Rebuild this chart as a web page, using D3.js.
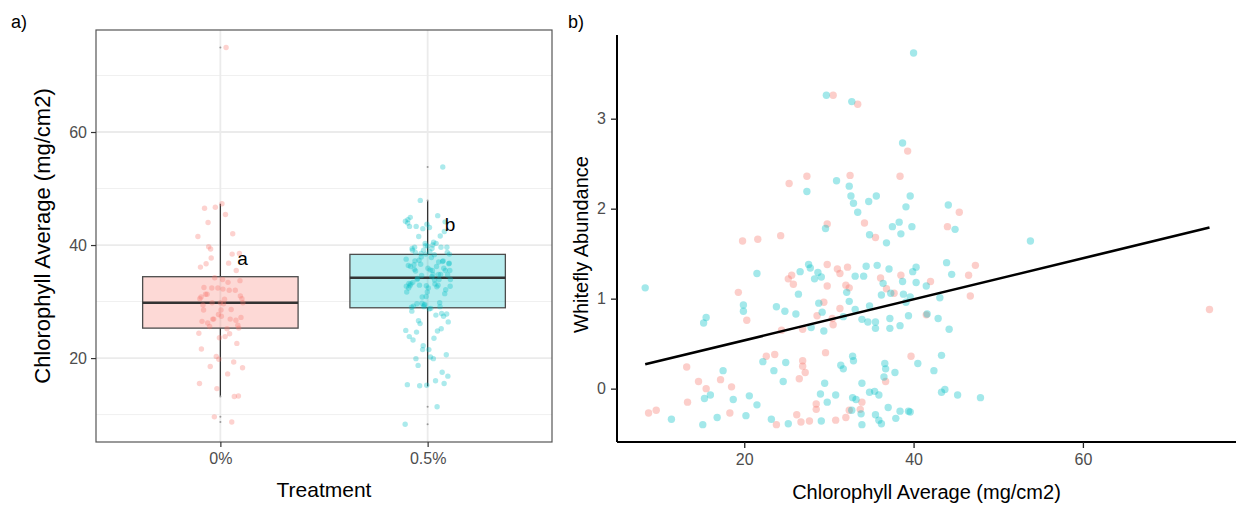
<!DOCTYPE html>
<html>
<head>
<meta charset="utf-8">
<script src="https://cdn.jsdelivr.net/npm/d3@7"></script>
<style>
  body { margin: 0; background: #fff; }
  text { font-family: "Liberation Sans", Arial, sans-serif; }
</style>
</head>
<body>
<div id="chart"></div>
<script>
var width = 1236;
var height = 506;

// treatment groups
var groups = ["0%", "0.5%"];
var groupColors = ["#F8766D", "#00BFC4"];

// 0% plants: chlorophyll average (mg/cm2) and whitefly abundance
var chl0 = [30.5, 33.4, 39.3, 25.3, 27.4, 32.5, 38.4, 34.2, 29.8, 45.4, 44.0, 35.5, 19.8, 21.6, 24.3,
    29.8, 31.0, 32.2, 31.3, 19.3, 20.3, 24.4, 25.2, 25.6, 25.8, 29.8, 29.4, 28.6, 26.9, 30.5,
    30.4, 31.3, 32.0, 32.4, 36.1, 36.8, 37.7, 38.5, 47.3, 46.5, 42.0, 46.7, 41.5, 74.95, 39.7,
    22.6, 23.6, 26.5, 26.9, 26.9, 27.2, 29.6, 36.7, 13.2, 14.6, 15.5, 17.2, 18.5, 13.3, 28.5,
    28.5, 8.7, 9.6, 18.3, 23.8, 26.2, 26.7, 27.7, 30.8, 32.0, 32.4, 33.7, 33.9];
var wf0 = [3.26, 3.16, 2.64, 2.28, 2.36, 2.37, 2.36, 1.84, 1.83, 1.96, 1.80, 1.68, 1.64, 1.66, 1.70,
    1.38, 1.33, 1.35, 1.28, 1.07, 0.76, 0.65, 1.22, 1.26, 1.16, 1.14, 0.96, 0.81, 0.66, 0.71,
    0.78, 0.89, 1.15, 1.12, 1.23, 1.11, 1.06, 1.26, 1.37, 1.26, 1.19, 1.03, 0.82, 0.88, 0.36,
    0.36, 0.38, 0.11, 0.31, 0.25, 0.18, 0.40, 0.08, 0.24, 0.08, 0.00, 0.10, 0.02, -0.15, -0.17,
    -0.23, -0.27, -0.24, -0.27, -0.40, -0.29, -0.37, -0.36, -0.35, -0.32, -0.24, -0.23, -0.15];

// 0.5% plants
var chl05 = [29.7, 32.7, 40.0, 38.7, 27.4, 30.9, 32.4, 32.6, 32.9, 34.7, 35.6, 33.4, 39.6, 39.1, 37.5,
    38.3, 29.6, 44.1, 39.8, 44.9, 34.8, 38.5, 36.8, 34.4, 35.7, 37.1, 40.3, 43.9, 27.6, 26.6,
    27.8, 28.7, 28.3, 29.1, 21.5, 8.3, 19.9, 19.9, 15.5, 15.2, 23.8, 24.8, 26.1, 26.4, 28.8,
    29.2, 27.9, 29.4, 31.7, 33.1, 34.1, 32.1, 32.4, 33.1, 33.9, 34.6, 35.5, 35.5, 37.2, 37.2,
    38.4, 36.4, 36.2, 37.3, 38.7, 38.8, 39.1, 34.8, 22.2, 24.9, 23.5, 24.6, 31.4, 31.7, 32.8,
    32.9, 36.6, 36.7, 37.8, 36.5, 17.5, 29.5, 15.3, 16.0, 18.7, 20.6, 21.5, 29.0, 29.8, 30.8,
    33.9, 34.8, 35.4, 35.9, 32.8, 33.2, 11.4, 15.1, 16.8, 20.2, 23.2, 25.2, 29.1, 32.7, 33.8,
    33.9, 35.5, 35.9, 36.2, 37.0, 37.9, 38.4, 39.4, 39.6, 53.8, 39.9, 44.5, 40.3, 41.5, 39.6,
    43.1, 39.4, 41.6, 42.9, 44.2, 40.5, 43.3, 42.4, 43.7, 43.3, 45.2, 47.9];
var wf05 = [3.26, 3.19, 3.73, 2.73, 2.19, 2.31, 2.25, 2.14, 2.06, 2.08, 2.14, 1.96, 2.14, 2.02, 1.80,
    1.85, 1.78, 2.04, 1.80, 1.77, 1.71, 1.72, 1.62, 1.36, 1.37, 1.33, 1.35, 1.40, 1.38, 1.30,
    1.34, 1.29, 1.22, 1.24, 1.28, 1.12, 0.93, 0.86, 0.79, 0.73, 0.91, 0.86, 0.83, 1.05, 0.95,
    0.85, 0.68, 0.64, 0.80, 1.25, 1.25, 1.07, 0.97, 0.88, 0.77, 0.74, 0.74, 0.67, 0.78, 0.67,
    0.70, 1.17, 1.04, 1.06, 1.19, 1.05, 0.96, 0.92, 0.30, 0.29, 0.20, 0.08, 0.26, 0.22, 0.36,
    0.31, 0.28, 0.22, 0.18, 0.13, 0.20, 0.06, -0.11, -0.07, -0.12, -0.08, -0.18, -0.06, -0.15, -0.07,
    0.06, -0.04, -0.03, -0.07, -0.10, -0.12, -0.34, -0.40, -0.32, -0.30, -0.34, -0.39, -0.36, -0.24, -0.28,
    -0.40, -0.29, -0.35, -0.39, -0.21, -0.33, -0.25, -0.25, -0.26, 1.64, 1.30, 1.27, 1.18, 1.14, 1.02,
    1.01, 0.81, 0.83, 0.78, 0.66, 0.28, 0.37, 0.20, -0.01, -0.04, -0.07, -0.10];

// boxplot statistics per group
var boxLower = [13.3, 15.0];
var boxQ1 = [25.3, 28.9];
var boxMedian = [29.8, 34.2];
var boxQ3 = [34.4, 38.35];
var boxUpper = [47.3, 47.8];

// significance letters
var sigLabels = ["a", "b"];
var sigY = [36.5, 42.4];

// linear fit endpoints (chlorophyll, whitefly)
var fitX = [8.3, 74.95];
var fitY = [0.27, 1.79];

var yTicksA = [20, 40, 60];
var yMinorA = [10, 30, 50, 70];
var xTicksB = [20, 40, 60];
var yTicksB = [0, 1, 2, 3];

var chlByGroup = [chl0, chl05];

var svg = d3.select("#chart").append("svg")
    .attr("width", width)
    .attr("height", height);

// ---------------- panel a ----------------
var aLeft = 96, aRight = 552, aTop = 30, aBottom = 442;

var xa = d3.scalePoint()
    .domain(groups)
    .range([aLeft, aRight])
    .padding(0.6);

var ya = d3.scaleLinear()
    .domain([5.15, 78.05])
    .range([aBottom, aTop]);

var pa = svg.append("g");

// grid
pa.selectAll(".minor")
    .data(yMinorA)
    .enter().append("line")
    .attr("x1", aLeft).attr("x2", aRight)
    .attr("y1", function(d) { return ya(d); })
    .attr("y2", function(d) { return ya(d); })
    .attr("stroke", "#F0F0F0")
    .attr("stroke-width", 1);

pa.selectAll(".major")
    .data(yTicksA)
    .enter().append("line")
    .attr("x1", aLeft).attr("x2", aRight)
    .attr("y1", function(d) { return ya(d); })
    .attr("y2", function(d) { return ya(d); })
    .attr("stroke", "#EBEBEB")
    .attr("stroke-width", 1.8);

pa.selectAll(".vmajor")
    .data(groups)
    .enter().append("line")
    .attr("x1", function(d) { return xa(d); })
    .attr("x2", function(d) { return xa(d); })
    .attr("y1", aTop).attr("y2", aBottom)
    .attr("stroke", "#EBEBEB")
    .attr("stroke-width", 1.8);

var boxW = xa.step() * 0.75;

// whiskers, boxes, medians
groups.forEach(function(g, i) {
    var cx = xa(g);
    pa.append("line")
        .attr("x1", cx).attr("x2", cx)
        .attr("y1", ya(boxQ3[i])).attr("y2", ya(boxUpper[i]))
        .attr("stroke", "#333").attr("stroke-width", 1.3);
    pa.append("line")
        .attr("x1", cx).attr("x2", cx)
        .attr("y1", ya(boxQ1[i])).attr("y2", ya(boxLower[i]))
        .attr("stroke", "#333").attr("stroke-width", 1.3);

    pa.append("rect")
        .attr("x", cx - boxW / 2)
        .attr("y", ya(boxQ3[i]))
        .attr("width", boxW)
        .attr("height", ya(boxQ1[i]) - ya(boxQ3[i]))
        .attr("fill", groupColors[i])
        .attr("fill-opacity", 0.28)
        .attr("stroke", "#4D4D4D")
        .attr("stroke-width", 1.3);

    pa.append("line")
        .attr("x1", cx - boxW / 2).attr("x2", cx + boxW / 2)
        .attr("y1", ya(boxMedian[i])).attr("y2", ya(boxMedian[i]))
        .attr("stroke", "#333").attr("stroke-width", 2.4);

    // outliers (small dots at centre)
    var outs = chlByGroup[i].filter(function(v) { return v > boxUpper[i] || v < boxLower[i]; });
    pa.selectAll(".out" + i)
        .data(outs)
        .enter().append("circle")
        .attr("cx", cx)
        .attr("cy", function(d) { return ya(d); })
        .attr("r", 1)
        .attr("fill", "#999");
});

// jittered points
function jit(i) {
    return ((i * 0.618034 + 0.05) % 1) * 2 - 1;
}

groups.forEach(function(g, gi) {
    pa.selectAll(".pt" + gi)
        .data(chlByGroup[gi])
        .enter().append("circle")
        .attr("cx", function(d, i) { return xa(g) + jit(i + gi * 7) * xa.step() * 0.11; })
        .attr("cy", function(d) { return ya(d); })
        .attr("r", 2.7)
        .attr("fill", groupColors[gi])
        .attr("fill-opacity", 0.33);
});

// border
pa.append("rect")
    .attr("x", aLeft).attr("y", aTop)
    .attr("width", aRight - aLeft).attr("height", aBottom - aTop)
    .attr("fill", "none")
    .attr("stroke", "#555")
    .attr("stroke-width", 1.2);

// axes
var yAxisA = pa.append("g")
    .attr("transform", "translate(" + aLeft + ",0)")
    .call(d3.axisLeft(ya).tickValues(yTicksA).tickSize(5).tickPadding(4));
var xAxisA = pa.append("g")
    .attr("transform", "translate(0," + aBottom + ")")
    .call(d3.axisBottom(xa).tickSize(5).tickPadding(6));

[yAxisA, xAxisA].forEach(function(ax) {
    ax.select(".domain").remove();
    ax.selectAll("line").attr("stroke", "#333").attr("stroke-width", 1.2);
    ax.selectAll("text").attr("fill", "#4D4D4D").style("font-size", "16px");
});

// significance letters
sigLabels.forEach(function(s, i) {
    pa.append("text")
        .attr("x", xa(groups[i]) + 17)
        .attr("y", ya(sigY[i]))
        .style("font-size", "19px")
        .attr("fill", "#000")
        .text(s);
});

pa.append("text")
    .attr("x", (aLeft + aRight) / 2)
    .attr("y", 497)
    .attr("text-anchor", "middle")
    .style("font-size", "21px")
    .text("Treatment");

pa.append("text")
    .attr("transform", "translate(50," + ((aTop + aBottom) / 2) + ") rotate(-90)")
    .attr("text-anchor", "middle")
    .style("font-size", "22px")
    .text("Chlorophyll Average (mg/cm2)");

svg.append("text")
    .attr("x", 11).attr("y", 28)
    .style("font-size", "18px")
    .text("a)");

// ---------------- panel b ----------------
var bLeft = 617, bRight = 1236, bTop = 35, bBottom = 442;

var xb = d3.scaleLinear()
    .domain([4.97, 78.2])
    .range([bLeft, 1237]);

var yb = d3.scaleLinear()
    .domain([-0.593, 3.93])
    .range([bBottom, bTop]);

var pb = svg.append("g");

var wfByGroup = [wf0, wf05];

groups.forEach(function(g, gi) {
    pb.selectAll(".bp" + gi)
        .data(chlByGroup[gi])
        .enter().append("circle")
        .attr("cx", function(d) { return xb(d); })
        .attr("cy", function(d, i) { return yb(wfByGroup[gi][i]); })
        .attr("r", 3.7)
        .attr("fill", groupColors[gi])
        .attr("fill-opacity", 0.36);
});

var fitLine = d3.line()
    .x(function(d) { return xb(d[0]); })
    .y(function(d) { return yb(d[1]); });

pb.append("path")
    .datum(d3.zip(fitX, fitY))
    .attr("d", fitLine)
    .attr("fill", "none")
    .attr("stroke", "#000")
    .attr("stroke-width", 2.6);

var xAxisB = pb.append("g")
    .attr("transform", "translate(0," + bBottom + ")")
    .call(d3.axisBottom(xb).tickValues(xTicksB).tickFormat(d3.format("d"))
        .tickSize(6).tickSizeOuter(0).tickPadding(6));
var yAxisB = pb.append("g")
    .attr("transform", "translate(" + bLeft + ",0)")
    .call(d3.axisLeft(yb).tickValues(yTicksB).tickFormat(d3.format("d"))
        .tickSize(6).tickSizeOuter(0).tickPadding(5));

xAxisB.select(".domain").attr("d", "M" + bLeft + ",0H" + bRight);
yAxisB.select(".domain").attr("d", "M0," + bTop + "V" + bBottom);

[xAxisB, yAxisB].forEach(function(ax) {
    ax.select(".domain").attr("stroke", "#000").attr("stroke-width", 2);
    ax.selectAll(".tick line").attr("stroke", "#222").attr("stroke-width", 1.3);
    ax.selectAll("text").attr("fill", "#4D4D4D").style("font-size", "16px");
});

pb.append("text")
    .attr("x", (bLeft + bRight) / 2)
    .attr("y", 499)
    .attr("text-anchor", "middle")
    .style("font-size", "20px")
    .text("Chlorophyll Average (mg/cm2)");

pb.append("text")
    .attr("transform", "translate(588," + ((bTop + bBottom) / 2 + 6) + ") rotate(-90)")
    .attr("text-anchor", "middle")
    .style("font-size", "20px")
    .text("Whitefly Abundance");

svg.append("text")
    .attr("x", 568).attr("y", 28)
    .style("font-size", "18px")
    .text("b)");
</script>
</body>
</html>
